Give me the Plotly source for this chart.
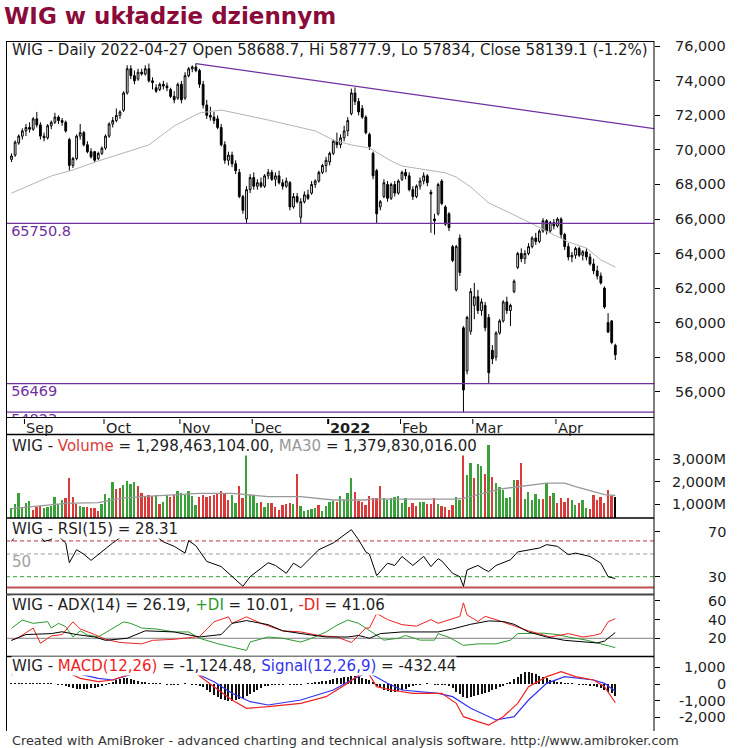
import plotly.graph_objects as go
import pandas as pd

W, H = 739, 748
FONT = "DejaVu Sans"

# ---------------- data ----------------
holidays = ["2021-11-01", "2021-11-11", "2021-12-24", "2021-12-31",
            "2022-01-06", "2022-04-15", "2022-04-18"]
dates = [d for d in pd.bdate_range("2021-08-26", "2022-04-27")
         if d.strftime("%Y-%m-%d") not in holidays]

open_ = [69450, 69700, 70400, 70800, 71100, 71300, 71200, 71800, 71450, 70800,
         70700, 71400, 71600, 71900, 71700, 71600, 70600, 69100, 69500, 70800,
         71000, 70300, 69900, 69900, 69500, 69800, 70100, 70800, 71500, 71700,
         72000, 72300, 73300, 74700, 74300, 74100, 74500, 74400, 74700, 74000,
         73600, 73500, 73800, 73700, 73500, 73100, 73000, 73800, 73000, 74300,
         74700, 74800, 74600, 73800, 72600, 72000, 71900, 71800, 71300, 70300,
         69400, 69700, 69200, 68700, 67300, 66000, 67700, 68400, 67900, 68100,
         67900, 68500, 68700, 68300, 68500, 68100, 67900, 68100, 66700, 67300,
         66100, 67000, 67400, 67500, 68000, 68200, 68700, 69100, 69300, 69800,
         70500, 70300, 70700, 71100, 72100, 73300, 72800, 72400, 71900, 70900,
         69800, 68800, 66700, 67300, 68000, 67200, 68000, 67500, 68300, 68700,
         68500, 67700, 67300, 67900, 68200, 68500, 67550, 66000, 66300, 68200,
         66700, 66300, 64400, 61900, 64900, 59700, 57200, 59500, 61000, 61500,
         60700, 61000, 60300, 58400, 58000, 59400, 60100, 61200, 60700, 61800,
         63200, 64000, 63700, 64000, 64400, 64900, 64700, 65300, 65900, 65300,
         65800, 65600, 66000, 65100, 64400, 63800, 63900, 64300, 63900, 64100,
         63800, 63400, 63000, 62700, 62000, 60000, 60100, 58688.7]
high = [69800, 70550, 70900, 71250, 71500, 71600, 71900, 72200, 71600, 71000,
        71500, 71700, 72150, 72000, 71850, 71700, 70700, 69600, 70900, 71500,
        71100, 70500, 70100, 69950, 69900, 70200, 70900, 71600, 71900, 72400,
        72300, 73400, 74900, 74900, 74600, 74700, 74700, 74900, 75000, 74200,
        73800, 73900, 74000, 73900, 73600, 73400, 73900, 74000, 74500, 74800,
        74900, 75010, 74700, 74000, 72900, 72500, 72200, 72000, 71500, 70500,
        69900, 69900, 69400, 68900, 67400, 67900, 68600, 68700, 68300, 68400,
        68600, 68900, 68850, 68700, 68800, 68300, 68400, 68200, 67500, 67500,
        67200, 67600, 67700, 68200, 68300, 68800, 69200, 69600, 69900, 70600,
        71000, 70900, 71400, 71900, 73550, 73620, 73000, 72600, 72000, 71000,
        69900, 68900, 67100, 68300, 68200, 68100, 68200, 68300, 68800, 68900,
        68700, 67900, 68000, 68400, 68700, 68600, 67700, 66300, 68100, 68300,
        66800, 66400, 64500, 64500, 65100, 59800, 60400, 62000, 62300, 61900,
        61400, 61200, 60500, 58700, 59500, 60200, 61300, 61500, 61100, 62500,
        64100, 64300, 64200, 64600, 65000, 65200, 65400, 66050, 66000, 65900,
        66000, 66100, 66100, 65200, 64600, 64100, 64400, 64400, 64200, 64300,
        64000, 63700, 63300, 62900, 62100, 60550, 60150, 58777.9]
low = [69300, 69600, 70300, 70600, 70800, 71000, 71100, 71300, 70600, 70500,
       70600, 71200, 71500, 71500, 71400, 71000, 68800, 68950, 69400, 70600,
       70200, 69800, 69500, 69300, 69400, 69700, 70000, 70700, 71300, 71600,
       71800, 72200, 73200, 74100, 73800, 74000, 74300, 74300, 73900, 73500,
       73300, 73400, 73500, 73400, 73000, 72700, 72900, 72700, 72900, 74200,
       74500, 74500, 73600, 72400, 71800, 71700, 71500, 71200, 70200, 69200,
       69100, 69000, 68600, 67200, 66300, 65751, 67500, 67700, 67700, 67800,
       67800, 68300, 68200, 67900, 68000, 67700, 67800, 66500, 66600, 66900,
       65751, 66900, 67100, 67400, 67800, 68100, 68600, 68700, 69100, 69700,
       70100, 70100, 70500, 70800, 72000, 72600, 72000, 71800, 70900, 70000,
       68300, 65770, 66500, 67200, 67000, 67100, 67300, 67400, 68200, 68300,
       67600, 67100, 67200, 67700, 68000, 67900, 65200, 65100, 66200, 66800,
       65600, 65300, 63500, 61800, 62700, 54823, 57000, 59300, 60200, 60500,
       60400, 59500, 56469, 57600, 57800, 59300, 60000, 60500, 59800, 61700,
       63100, 63500, 63400, 63900, 64300, 64500, 64600, 65200, 65100, 65200,
       65400, 65500, 64900, 64200, 63600, 63500, 63700, 63800, 63600, 63600,
       63300, 62800, 62500, 62200, 60800, 59400, 58750, 57834]
close = [69650, 70450, 70800, 71100, 71300, 71200, 71800, 71450, 70800, 70700,
         71400, 71600, 71900, 71700, 71600, 71100, 69100, 69500, 70800, 71000,
         70300, 69900, 69600, 69400, 69800, 70100, 70800, 71500, 71700, 72000,
         72200, 73300, 74700, 74300, 74000, 74500, 74400, 74700, 74000, 73900,
         73400, 73800, 73700, 73600, 73100, 72900, 73800, 72900, 74300, 74700,
         74800, 74600, 73800, 72600, 72000, 71900, 71700, 71300, 70300, 69400,
         69700, 69200, 68800, 67300, 66500, 67700, 68400, 67900, 68100, 67900,
         68500, 68700, 68300, 68500, 68100, 67900, 68200, 66700, 67300, 67000,
         67000, 67400, 67200, 68000, 68200, 68700, 69100, 69400, 69800, 70500,
         70300, 70700, 71100, 71700, 73300, 72800, 72200, 71900, 71000, 70200,
         68500, 66300, 67000, 68100, 67200, 68000, 67500, 68200, 68700, 68500,
         67700, 67300, 67900, 68200, 68500, 68100, 67450, 65900, 68000, 66900,
         65700, 65500, 63600, 64400, 62900, 56100, 60300, 61800, 61500, 60700,
         61200, 59700, 57100, 57900, 59400, 60100, 61200, 60700, 61000, 62400,
         64000, 63700, 64000, 64400, 64900, 64700, 65300, 65900, 65300, 65800,
         65600, 66000, 65100, 64400, 63800, 63900, 64300, 63900, 64100, 63800,
         63400, 63000, 62700, 62300, 60900, 59450, 58850, 58139.1]

# volume in millions and its colour (g = up, r = down)
volume_m = [800, 1000, 1480, 820, 1050, 1150, 750, 850, 900, 830,
            850, 900, 1300, 1000, 1200, 1250, 2150, 1300, 1000, 900,
            850, 850, 830, 800, 700, 1000, 1450, 1250, 2000, 1650,
            1700, 1850, 2050, 1900, 2000, 1800, 1500, 1350, 1400, 1350,
            1400, 1000, 1100, 1400, 1300, 1400, 1600, 1500, 1400, 1600,
            1350, 950, 1300, 1400, 1300, 1350, 1400, 1500, 1600, 1500,
            1200, 1400, 1050, 1800, 1250, 3270, 1400, 1350, 1050, 1100,
            850, 1050, 1050, 850, 750, 950, 1000, 1050, 1000, 2350,
            900, 700, 750, 780, 800, 950, 700, 900, 1100, 1150,
            1100, 1350, 1200, 1500, 2150, 1550, 1150, 1100, 950, 1350,
            1260, 1290, 1800, 1290, 1190, 1260, 1330, 1360, 1030, 1260,
            880, 1030, 930, 1070, 1070, 1000, 1000, 1260, 1000, 910,
            850, 730, 950, 1330, 1190, 3240, 2300, 2840, 2165, 2810,
            2690, 2360, 3650, 2230, 1960, 1780, 1630, 1290, 1330, 2070,
            2070, 2840, 1220, 1530, 1190, 1450, 1220, 1220, 1930, 1360,
            1510, 1030, 1290, 1100, 1260, 1180, 960, 1030, 1180, 840,
            780, 1420, 1180, 1330, 1030, 1630, 1360, 1298.463]
volume_dir = list("gggggg" "rrrggggg" "grrrrggrrrrgg" "ggrrgg" "ggrrrrrg"
                  "rggrrgggggg" "rrrrrrrrr" "ggrrgggg" "rggrrrrrrgr"
                  "gggggrgggg" "rggggrrrrr" "rrrggggggg" "rrrggrrrgr"
                  "rrrggrggrg" "grgrggggg" "grrgggggrg" "rgrrrrggrg"
                  "grrrrrrr")

# grey moving average on price (read points: bar index, value)
ma_idx = [0, 11, 17, 24, 38, 45, 52, 58, 71, 84, 89, 94, 99, 105, 108, 120,
          123, 127, 132, 138, 143, 149, 154, 159, 163, 167]
ma_val = [67500, 68490, 68840, 69360, 70290, 71390, 72140, 72310, 71730, 71100,
          70570, 70290, 70110, 69360, 69070, 68670, 68430, 67850, 66930, 66350,
          65830, 65190, 64670, 64320, 63630, 63220]

vma_idx = [0, 15, 24, 30, 36, 43, 52, 61, 71, 80, 89, 98, 99, 122, 125, 135,
           148, 153, 156, 164, 167]
vma_val = [790, 1030, 1060, 1250, 1330, 1400, 1480, 1480, 1330, 1330, 1180, 1180,
           1220, 1220, 1250, 1670, 1930, 1930, 1780, 1420, 1379.83]

rsi_idx = [0, 1, 3, 5, 7, 8, 9, 11, 12, 13, 15, 16, 18, 20, 22, 28, 31, 33, 36,
           38, 40, 42, 45, 48, 49, 51, 54, 58, 63, 64, 66, 71, 73, 76, 78, 80,
           85, 89, 94, 96, 98, 99, 101, 104, 106, 108, 111, 114, 116, 118, 119,
           122, 124, 125, 126, 129, 131, 132, 134, 138, 140, 143, 146, 148, 151,
           154, 156, 160, 163, 165, 167]
rsi_val = [61.4, 65.8, 72, 73, 71, 65.8, 61.4, 63, 70, 65.8, 60, 42.4, 54, 50,
           44.5, 60, 66.8, 74, 77, 74, 66, 61, 57, 51, 62, 57.5, 43.6, 39, 24.6,
           21.5, 30, 42.4, 40, 33, 42, 38, 54, 60, 71.8, 62.8, 52, 50, 31, 42,
           40, 48, 40, 48, 39, 46, 44, 33, 30, 21.4, 36, 40, 36, 34.6, 40, 45,
           52, 54, 55.5, 58.5, 57, 49.6, 51, 48, 42, 30, 28.31]
rsi_levels = [61.8, 50.2, 30, 20.4]

pdi_idx = [0, 3, 6, 10, 11, 13, 15, 17, 19, 21, 24, 27, 31, 33, 36, 40, 45, 49,
           52, 57, 61, 65, 66, 71, 75, 80, 83, 87, 90, 93, 96, 98, 99, 103, 107,
           109, 113, 117, 118, 121, 125, 129, 134, 138, 140, 143, 147, 151, 154,
           159, 163, 167]
pdi_val = [30.8, 39.5, 36, 37.8, 31, 36, 32.4, 21.4, 28, 23.5, 21.4, 28, 37.6, 36,
           31, 30, 26.8, 26.8, 20, 14.2, 10.6, 7, 16, 21.4, 20, 16, 20, 26.8, 34,
           39.5, 36, 31, 28, 18, 20, 23, 18, 18, 25, 21, 12.4, 14, 14, 18, 25,
           25, 25.5, 24, 21.4, 18, 14, 10.01]
mdi_idx = [0, 2, 6, 8, 11, 14, 17, 19, 23, 26, 30, 36, 39, 45, 50, 52, 56, 60,
           61, 65, 69, 75, 80, 85, 90, 94, 96, 98, 99, 101, 104, 108, 112, 116,
           118, 121, 124, 125, 126, 129, 131, 134, 138, 143, 149, 154, 158, 161,
           163, 165, 167]
mdi_val = [17.8, 21, 31, 14.6, 22.5, 24, 37.6, 30, 24, 18.9, 15.5, 14, 17.8,
           18.9, 21, 22, 37.6, 43, 36, 43, 36, 28, 26.8, 23, 21.4, 15.5, 23, 31,
           31, 46.7, 40, 34.6, 33, 40, 36, 40, 43.5, 58, 45, 38, 43.5, 40, 34.6,
           28, 21.4, 25, 21.4, 23, 25, 37.6, 41.06]
adx_idx = [0, 4, 11, 14, 18, 23, 26, 32, 37, 45, 52, 58, 61, 65, 71, 75, 82, 87,
           93, 96, 98, 99, 102, 108, 118, 122, 127, 132, 136, 139, 143, 148,
           153, 158, 162, 164, 167]
adx_val = [17.8, 24, 25, 27, 24, 21.4, 17.8, 20, 28, 26.8, 21.4, 24, 36, 39,
           34.6, 28, 24, 21.4, 21.4, 23, 21, 20, 25, 26.8, 26.8, 30, 35, 38.6,
           38, 35, 26.8, 21.4, 17.8, 16, 15, 17, 26.19]

macd_idx = [0, 4, 9, 13, 16, 19, 24, 28, 32, 36, 41, 45, 46, 51, 56, 61, 65, 71,
            80, 87, 93, 96, 98, 99, 101, 105, 111, 119, 123, 125, 129, 132, 136,
            140, 143, 148, 152, 156, 161, 164, 167]
macd_val = [540, 700, 800, 750, 640, 340, 140, 240, 540, 900, 1000, 800, 640, 640,
            -160, -960, -1460, -1360, -1160, -760, 40, 540, 640, 540, -160, -360,
            -560, -560, -1160, -1960, -2260, -2460, -1960, -1160, -160, 440, 740,
            440, 240, -160, -1124.48]
sig_idx = [0, 4, 9, 14, 18, 24, 28, 34, 38, 43, 47, 51, 56, 61, 66, 71, 80, 89,
           94, 98, 99, 104, 108, 118, 122, 127, 134, 139, 143, 148, 153, 157,
           161, 164, 167]
sig_val = [600, 700, 780, 760, 640, 340, 240, 640, 820, 900, 800, 640, 140, -560,
           -1060, -1260, -960, -360, 240, 640, 640, 40, -360, -560, -760, -1460,
           -2160, -1960, -960, 40, 440, 340, 240, 40, -432.44]
hist = [40, 40, 50, 50, 40, 40, 40, 40, 30, 30, 20, 10, 0,
        -20, -50, -80,
        -200, -250, -280, -300, -290, -270, -250, -220, -180, -120,
        -40, 60, 150, 250, 320, 350, 340, 300, 250, 180, 120,
        80, 50, 30, 20, 10, 0, -10, -20, -20, -10, 0, 10, 0, -10, -30, -80,
        -200, -350, -500, -650, -780, -880, -950, -1000, -1000, -980, -920,
        -820, -700, -580, -450, -330, -220, -130,
        -80, -50, -30, -20, -10, 0, -10, -30, -40, -20, 0, 20, 40, 70, 110,
        160, 210, 260, 300, 340, 380, 410, 440, 460, 460, 440, 390, 320, 230, 120,
        -100, -250, -360, -430, -470, -480, -440, -370, -280,
        -180, -100, -50, -20, 0, 10, 0, -10, -20, -30, -60, -100,
        -250, -450, -600, -800, -820, -780, -720, -650, -580, -520, -470,
        -380, -280, -180, -80, 20,
        150, 300, 450, 600, 700, 700, 650, 580, 500, 420, 340, 260,
        200, 150, 100,
        60, 30, 10, 0, -20, -40, -60, -80, -110,
        -160, -250, -350, -450, -560, -692]

levels = [65750.8, 56469, 54823]
level_labels = ["65750.8", "56469", "54823"]
trend_idx = [51, 177.7]
trend_val = [75000, 71230]

month_labels = ["Sep", "Oct", "Nov", "Dec", "2022", "Feb", "Mar", "Apr"]
price_ticks = [56000, 58000, 60000, 62000, 64000, 66000, 68000, 70000, 72000,
               74000, 76000]
vol_ticks = [1000, 2000, 3000]
rsi_ticks = [70, 30]
adx_ticks = [60, 40, 20]
macd_ticks = [1000, 0, -1000, -2000]

# ---------------- helpers ----------------
n = len(close)
idx = list(range(n))
XR = [-1.52, 177.7]


def py(y):
    return 1 - y / H


PURPLE = "#7030a0"
GREEN = "#3aa03a"
RED = "#d93a3a"
TXT = "#1e1e1e"

fig = go.Figure()

# price panel
fig.add_trace(go.Scatter(x=ma_idx, y=ma_val, mode="lines",
                         line=dict(color="#b4b4b4", width=1), xaxis="x", yaxis="y"))
fig.add_trace(go.Candlestick(
    x=idx, open=open_, high=high, low=low, close=close,
    increasing=dict(fillcolor="white", line=dict(color="black", width=1)),
    decreasing=dict(fillcolor="black", line=dict(color="black", width=1)),
    whiskerwidth=0, xaxis="x", yaxis="y"))
fig.add_trace(go.Scatter(x=trend_idx, y=trend_val, mode="lines",
                         line=dict(color=PURPLE, width=1.3), xaxis="x", yaxis="y"))
for lv, lab in zip(levels, level_labels):
    fig.add_trace(go.Scatter(x=[XR[0], XR[1]], y=[lv, lv], mode="lines",
                             line=dict(color=PURPLE, width=1.3), xaxis="x", yaxis="y"))
    fig.add_trace(go.Scatter(x=[-0.1], y=[lv - 500], mode="text", text=[lab],
                             textposition="middle right", cliponaxis=True,
                             textfont=dict(family=FONT, size=14.5, color=PURPLE),
                             xaxis="x", yaxis="y"))

# volume panel
vcol = [GREEN if d == "g" else RED for d in volume_dir]
fig.add_trace(go.Bar(x=idx, y=volume_m, marker=dict(color=vcol, line=dict(width=0)),
                     width=0.5, xaxis="x2", yaxis="y2"))
fig.add_trace(go.Scatter(x=vma_idx, y=vma_val, mode="lines",
                         line=dict(color="#999999", width=1.3), xaxis="x2", yaxis="y2"))

# RSI panel
rsi_lvl_style = [("#c0303a", "dash", 1), ("#a0a0a0", "dash", 1),
                 ("#30a030", "dash", 1), ("#c05050", "solid", 2.2)]
for lv, (c, d, w) in zip(rsi_levels, rsi_lvl_style):
    fig.add_trace(go.Scatter(x=XR, y=[lv, lv], mode="lines",
                             line=dict(color=c, dash="4px,3px" if d == "dash" else None, width=w),
                             xaxis="x3", yaxis="y3"))
fig.add_trace(go.Scatter(x=rsi_idx, y=rsi_val, mode="lines",
                         line=dict(color="black", width=1), xaxis="x3", yaxis="y3"))

# ADX panel
fig.add_trace(go.Scatter(x=XR, y=[20, 20], mode="lines",
                         line=dict(color="#808080", width=1), xaxis="x4", yaxis="y4"))
fig.add_trace(go.Scatter(x=pdi_idx, y=pdi_val, mode="lines",
                         line=dict(color="#2e9a2e", width=1), xaxis="x4", yaxis="y4"))
fig.add_trace(go.Scatter(x=mdi_idx, y=mdi_val, mode="lines",
                         line=dict(color="#ee2222", width=1), xaxis="x4", yaxis="y4"))
fig.add_trace(go.Scatter(x=adx_idx, y=adx_val, mode="lines",
                         line=dict(color="black", width=1), xaxis="x4", yaxis="y4"))

# MACD panel
fig.add_trace(go.Bar(x=idx, y=hist, width=0.28, marker=dict(color="#111111", line=dict(width=0)),
                     xaxis="x5", yaxis="y5"))
fig.add_trace(go.Scatter(x=sig_idx, y=sig_val, mode="lines",
                         line=dict(color="#3333ee", width=1.2), xaxis="x5", yaxis="y5"))
fig.add_trace(go.Scatter(x=macd_idx, y=macd_val, mode="lines",
                         line=dict(color="#ee2222", width=1.2), xaxis="x5", yaxis="y5"))

# ---------------- axes ----------------
panels = [  # (top px, bottom px, range, ticks)
    (41, 417.5, [54506, 76307], price_ticks),
    (435, 518, [374, 4087], vol_ticks),
    (519, 593, [15.5, 81.3], rsi_ticks),
    (595, 656, [1.0, 66.4], adx_ticks),
    (657, 731, [-2820, 1620], macd_ticks),
]
layout_axes = {}
for k, (top, bot, rng, ticks) in enumerate(panels, start=1):
    sx = "" if k == 1 else str(k)
    layout_axes["xaxis" + sx] = dict(
        domain=[6 / W, 654 / W], range=XR, anchor="y" + sx, visible=False,
        showgrid=False, zeroline=False, fixedrange=True,
        **({} if k == 1 else {"matches": "x"}))
    layout_axes["yaxis" + sx] = dict(
        domain=[py(bot), py(top)], range=rng, anchor="x" + sx, side="right",
        showgrid=False, zeroline=False, showline=False, showticklabels=False,
        ticks="outside", ticklen=5, tickwidth=1, tickcolor="black",
        tickvals=ticks)
layout_axes["xaxis"]["rangeslider"] = dict(visible=False)

# ---------------- shapes (frame) ----------------
shapes = []


def hline(y, x0=6, x1=654, color="black", width=1):
    shapes.append(dict(type="line", xref="paper", yref="paper", x0=x0 / W, x1=x1 / W,
                       y0=py(y), y1=py(y), line=dict(color=color, width=width)))


def vline(x, y0, y1, color="black", width=1):
    shapes.append(dict(type="line", xref="paper", yref="paper", x0=x / W, x1=x / W,
                       y0=py(y0), y1=py(y1), line=dict(color=color, width=width)))


vline(6.5, 41, 731)
vline(654, 41, 731)
hline(41.5)
hline(417.5)
hline(434.5, width=1.5)
hline(518, width=1.5)
hline(594.5, color="#444444", width=2.2)
hline(656.5, width=1.5)

# ---------------- annotations ----------------
ann = []


def text(t, x, y, size=15, color=TXT, xanchor="left", bg=None, yref="paper"):
    d = dict(text=t, x=x / W, xref="paper", showarrow=False, xanchor=xanchor,
             yanchor="middle", font=dict(family=FONT, size=size, color=color),
             borderpad=0)
    if yref == "paper":
        d.update(y=py(y), yref="paper")
    else:
        d.update(y=y, yref=yref)
    if bg:
        d["bgcolor"] = bg
    ann.append(d)


text("<b>WIG w układzie dziennym</b>", 3, 16, size=23, color="#8a0a3a")
text("WIG - Daily 2022-04-27 Open 58688.7, Hi 58777.9, Lo 57834, Close 58139.1 (-1.2%)",
     11, 50)
text('WIG - <span style="color:#d93a3a">Volume</span> = 1,298,463,104.00, '
     '<span style="color:#999999">MA30</span> = 1,379,830,016.00', 11, 446, bg="white")
text("WIG - RSI(15) = 28.31", 11, 529, bg="white")
text("50", 11, 562, color="#a0a0a0")
text('WIG - ADX(14) = 26.19, <span style="color:#2e9a2e">+DI</span> = 10.01, '
     '<span style="color:#ee2222">-DI</span> = 41.06', 11, 605, bg="white")
text('WIG - <span style="color:#ee2222">MACD(12,26)</span> = -1,124.48, '
     '<span style="color:#3333ee">Signal(12,26,9)</span> = -432.44', 11, 666, bg="white")
text("Created with AmiBroker - advanced charting and technical analysis software. "
     "http://www.amibroker.com", 11, 740.5, size=12.8, color="#333333")

# right axis labels (right aligned)
for v in price_ticks:
    text(f"{v:,}", 727, v, yref="y", xanchor="right", size=14.5)
for v in vol_ticks:
    text(f"{v:,}M", 727, v, yref="y2", xanchor="right", size=14.5)
for v in rsi_ticks:
    text(f"{v}", 727, v, yref="y3", xanchor="right", size=14.5)
for v in adx_ticks:
    text(f"{v}", 727, v, yref="y4", xanchor="right", size=14.5)
for v in macd_ticks:
    text(f"{v:,}", 727, v, yref="y5", xanchor="right", size=14.5)

# date strip: month ticks
month_pos = []
seen = set()
for i, d in enumerate(dates):
    key = (d.year, d.month)
    if d >= pd.Timestamp("2021-09-01") and key not in seen:
        seen.add(key)
        month_pos.append(i)
x_of = lambda i: 6 + (i - XR[0]) / (XR[1] - XR[0]) * 648
for lab, i in zip(month_labels, month_pos):
    xp = x_of(i) - 1.5
    bold = lab == "2022"
    vline(xp, 419, 424, width=2 if bold else 1)
    text(f"<b>{lab}</b>" if bold else lab, xp + 1, 427.5, size=14.5)

fig.update_layout(
    width=W, height=H, margin=dict(l=0, r=0, t=0, b=0),
    paper_bgcolor="white", plot_bgcolor="white", showlegend=False,
    bargap=0, shapes=shapes, annotations=ann, **layout_axes)

fig.write_html("out.html")
